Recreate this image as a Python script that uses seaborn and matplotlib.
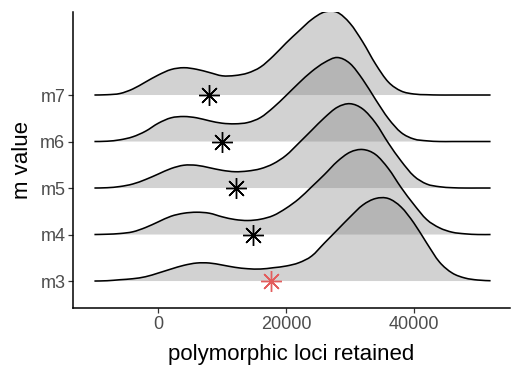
import numpy as np
import pandas as pd
import seaborn as sns
import matplotlib.pyplot as plt
from matplotlib.path import Path
from matplotlib.patches import PathPatch

sns.set_style('ticks')
plt.rcParams['font.family'] = ['Liberation Sans', 'DejaVu Sans']

#m values, bottom ridge first
m_labels = ['m3', 'm4', 'm5', 'm6', 'm7']

#positions (polymorphic loci retained) where the ridge heights were read
x_grid = [-10000, -8000, -6000, -4000, -2000, 0, 2000, 4000, 6000, 8000,
          10000, 12000, 14000, 16000, 18000, 20000, 22000, 24000, 26000, 28000,
          30000, 32000, 34000, 36000, 38000, 40000, 42000, 44000, 46000, 48000,
          50000, 52000]

#ridge heights (relative density) at each x_grid position
dens_m3 = [0, 0.3, 1.3, 2.3, 4.3, 8, 12, 15.7, 18, 18, 16, 13.7, 12.3, 12, 13.3, 15,
           18.3, 25, 38, 51, 64, 76, 82.5, 82.5, 74, 58, 38, 19, 8, 3, 1, 0.3]
dens_m4 = [0, 0.3, 1, 2.7, 7, 12.7, 18.3, 21.3, 22.3, 21.3, 17.7, 15, 14, 15.3, 19, 26.3,
           35.7, 47.7, 60, 73, 82.3, 85, 80, 66, 47, 30, 15, 6.7, 2.3, 0.7, 0, 0]
dens_m5 = [0, 0.3, 1.5, 4, 8.5, 14, 19.5, 22.8, 22.7, 20.3, 17.7, 16.3, 17, 19.3, 24.3, 32.7,
           45, 57.7, 70.3, 80.7, 84.3, 79, 65, 45, 27, 12, 4, 1.3, 0.3, 0, 0, 0]
dens_m6 = [0, 0.3, 1.7, 4.7, 10.3, 18.3, 23.7, 25, 23.7, 20.7, 18.3, 17.7, 19, 24, 34, 46,
           58.5, 70, 79, 84, 78, 62, 42, 23, 9, 2.5, 0.7, 0, 0, 0, 0, 0]
dens_m7 = [0, 0.3, 1.5, 6, 13, 20, 25.5, 27.3, 25.7, 22.5, 19.2, 19.5, 22, 28, 39, 52,
           64, 75.5, 83, 82.7, 71.7, 53, 31, 13, 4, 1, 0.3, 0, 0, 0, 0, 0]

#star marker value for each m
star_values = [17700, 14800, 12200, 9900, 7900]
star_colors = ['#E35D5D', 'black', 'black', 'black', 'black']

dens_list = [dens_m3, dens_m4, dens_m5, dens_m6, dens_m7]
ridge_df = pd.concat([pd.DataFrame({'m': m, 'row': i, 'x': x_grid, 'dens': d})
                      for i, (m, d) in enumerate(zip(m_labels, dens_list))])
star_df = pd.DataFrame({'m': m_labels, 'row': range(len(m_labels)), 'x': star_values})

#height scaling so the ridges overlap like the original
scale = 1 / 46.5


def smooth_path(xs, ys):
    #cubic bezier segments through the read points (catmull-rom style handles)
    pts = np.column_stack([xs, ys])
    padded = np.vstack([pts[0], pts, pts[-1]])
    verts = [pts[0]]
    codes = [Path.MOVETO]
    for k in range(len(pts) - 1):
        p0, p1, p2, p3 = padded[k], padded[k + 1], padded[k + 2], padded[k + 3]
        c1 = p1 + (p2 - p0) / 6
        c2 = p2 - (p3 - p1) / 6
        verts += [c1, c2, p2]
        codes += [Path.CURVE4] * 3
    return verts, codes


fig, ax = plt.subplots(figsize=(5.25, 3.75), dpi=100)

#draw from the top ridge down so lower ridges sit in front
for i in reversed(range(len(m_labels))):
    curr = ridge_df[ridge_df['row'] == i]
    top = i + curr['dens'].values * scale
    xs = curr['x'].values.astype(float)
    z = 2 + (len(m_labels) - i) * 2

    verts, codes = smooth_path(xs, top)
    fill_verts = verts + [(xs[-1], i), (xs[0], i), verts[0]]
    fill_codes = codes + [Path.LINETO, Path.LINETO, Path.CLOSEPOLY]
    ax.add_patch(PathPatch(Path(fill_verts, fill_codes), facecolor='#7f7f7f', alpha=0.35,
                           linewidth=0, zorder=z))
    ax.add_patch(PathPatch(Path(verts, codes), facecolor='none', edgecolor='black',
                           linewidth=1.15, zorder=z + 1))

for i, row in star_df.iterrows():
    ax.plot(row['x'], row['row'], marker=(8, 2, 0), markersize=15, markeredgewidth=1.0,
            color=star_colors[i], linestyle='none', zorder=20)

ax.set_xlim(-13350, 55040)
ax.set_ylim(-0.58, 5.785)
ax.set_xticks([0, 20000, 40000])
ax.set_xticklabels(['0', '20000', '40000'])
ax.set_yticks(range(len(m_labels)))
ax.set_yticklabels(m_labels)

ax.set_xlabel('polymorphic loci retained', fontsize=16, color='black', labelpad=8)
ax.set_ylabel('m value', fontsize=16, color='black', labelpad=5)
ax.tick_params(axis='both', labelsize=13, labelcolor='#4D4D4D', color='#333333',
               length=3.5, width=0.9, pad=2)

sns.despine(ax=ax)
for side in ['left', 'bottom']:
    ax.spines[side].set_linewidth(1.1)
    ax.spines[side].set_color('black')

plt.subplots_adjust(left=73/525, right=510/525, bottom=1-308/375, top=1-12/375)
plt.savefig('out.png', dpi=100)
plt.close()
